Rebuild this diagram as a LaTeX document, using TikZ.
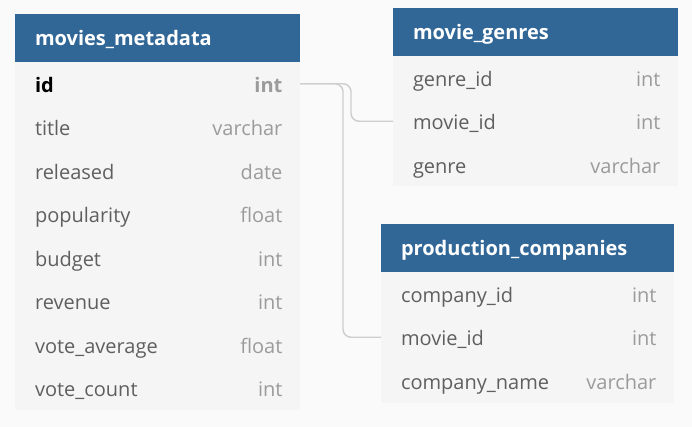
\documentclass[tikz,border=0pt]{standalone}
\usepackage{fontspec}
\setmainfont{Open Sans}
\usetikzlibrary{positioning,fit,backgrounds}
\definecolor{canvas}{RGB}{250,250,250}
\definecolor{hdr}{RGB}{49,103,151}
\definecolor{rowbg}{RGB}{245,245,245}
\definecolor{fld}{RGB}{95,95,95}
\definecolor{typ}{RGB}{155,155,155}
\definecolor{lnk}{RGB}{206,206,206}
\tikzset{
  head/.style={fill=hdr,text=white,font=\fontsize{15}{17}\selectfont\bfseries,align=left,
    inner xsep=15pt,inner ysep=0pt,minimum height=36pt,outer sep=0pt,
    text height=14pt,text depth=3pt},
  row/.style={text=fld,font=\fontsize{15}{17}\selectfont,align=left,
    inner xsep=15pt,inner ysep=0pt,minimum height=32.625pt,outer sep=0pt,
    text height=15.5pt,text depth=3pt},
  ftype/.style={text=typ,font=\fontsize{15}{17}\selectfont,anchor=base east,inner sep=0pt},
  body/.style={fill=rowbg,inner sep=0pt},
  narrow/.style={text width=183.75pt},
  wide/.style={text width=189.75pt},
  link/.style={draw=lnk,line width=1.1pt,rounded corners=6pt},
}

\begin{document}
\begin{tikzpicture}[x=0.75pt,y=-0.75pt]
\useasboundingbox (0,0) rectangle (692,427);
\begin{scope}[on background layer]
  \fill[canvas] (0,0) rectangle (692,427);
\end{scope}

% movies_metadata
\node[head,narrow,anchor=north west] (mm) at (15,14) {movies\_metadata};
\node[row,narrow,below=0pt of mm,text=black,font=\fontsize{15}{17}\selectfont\bfseries] (mm-id) {id};
\node[row,narrow,below=0pt of mm-id] (mm-title) {title};
\node[row,narrow,below=0pt of mm-title] (mm-rel) {released};
\node[row,narrow,below=0pt of mm-rel] (mm-pop) {popularity};
\node[row,narrow,below=0pt of mm-pop] (mm-bud) {budget};
\node[row,narrow,below=0pt of mm-bud] (mm-rev) {revenue};
\node[row,narrow,below=0pt of mm-rev] (mm-vavg) {vote\_average};
\node[row,narrow,below=0pt of mm-vavg] (mm-vcnt) {vote\_count};
\node[ftype,font=\fontsize{15}{17}\selectfont\bfseries] (mm-id-t) at ([xshift=-13pt]mm-id.base east) {int};
\node[ftype] (mm-title-t) at ([xshift=-13pt]mm-title.base east) {varchar};
\node[ftype] (mm-rel-t) at ([xshift=-13pt]mm-rel.base east) {date};
\node[ftype] (mm-pop-t) at ([xshift=-13pt]mm-pop.base east) {float};
\node[ftype] (mm-bud-t) at ([xshift=-13pt]mm-bud.base east) {int};
\node[ftype] (mm-rev-t) at ([xshift=-13pt]mm-rev.base east) {int};
\node[ftype] (mm-vavg-t) at ([xshift=-13pt]mm-vavg.base east) {float};
\node[ftype] (mm-vcnt-t) at ([xshift=-13pt]mm-vcnt.base east) {int};

% movie_genres
\node[head,narrow,anchor=north west] (mg) at (393,8) {movie\_genres};
\node[row,narrow,below=0pt of mg] (mg-gid) {genre\_id};
\node[row,narrow,below=0pt of mg-gid] (mg-movie) {movie\_id};
\node[row,narrow,below=0pt of mg-movie] (mg-genre) {genre};
\node[ftype] (mg-gid-t) at ([xshift=-13pt]mg-gid.base east) {int};
\node[ftype] (mg-movie-t) at ([xshift=-13pt]mg-movie.base east) {int};
\node[ftype] (mg-genre-t) at ([xshift=-13pt]mg-genre.base east) {varchar};

% production_companies
\node[head,wide,anchor=north west] (pc) at (381,224) {production\_companies};
\node[row,wide,below=0pt of pc] (pc-cid) {company\_id};
\node[row,wide,below=0pt of pc-cid] (pc-movie) {movie\_id};
\node[row,wide,below=0pt of pc-movie] (pc-name) {company\_name};
\node[ftype] (pc-cid-t) at ([xshift=-13pt]pc-cid.base east) {int};
\node[ftype] (pc-movie-t) at ([xshift=-13pt]pc-movie.base east) {int};
\node[ftype] (pc-name-t) at ([xshift=-13pt]pc-name.base east) {varchar};

% table bodies
\begin{scope}[on background layer]
  \node[body,fit=(mm-id)(mm-vcnt)] (mm-body) {};
  \node[body,fit=(mg-gid)(mg-genre)] (mg-body) {};
  \node[body,fit=(pc-cid)(pc-name)] (pc-body) {};
\end{scope}

% links
\draw[link] (mm-id.east) -- ++(43,0) |- (pc-movie.west);
\draw[link] (mm-id.east) -- ++(51,0) |- (mg-movie.west);
\end{tikzpicture}
\end{document}
